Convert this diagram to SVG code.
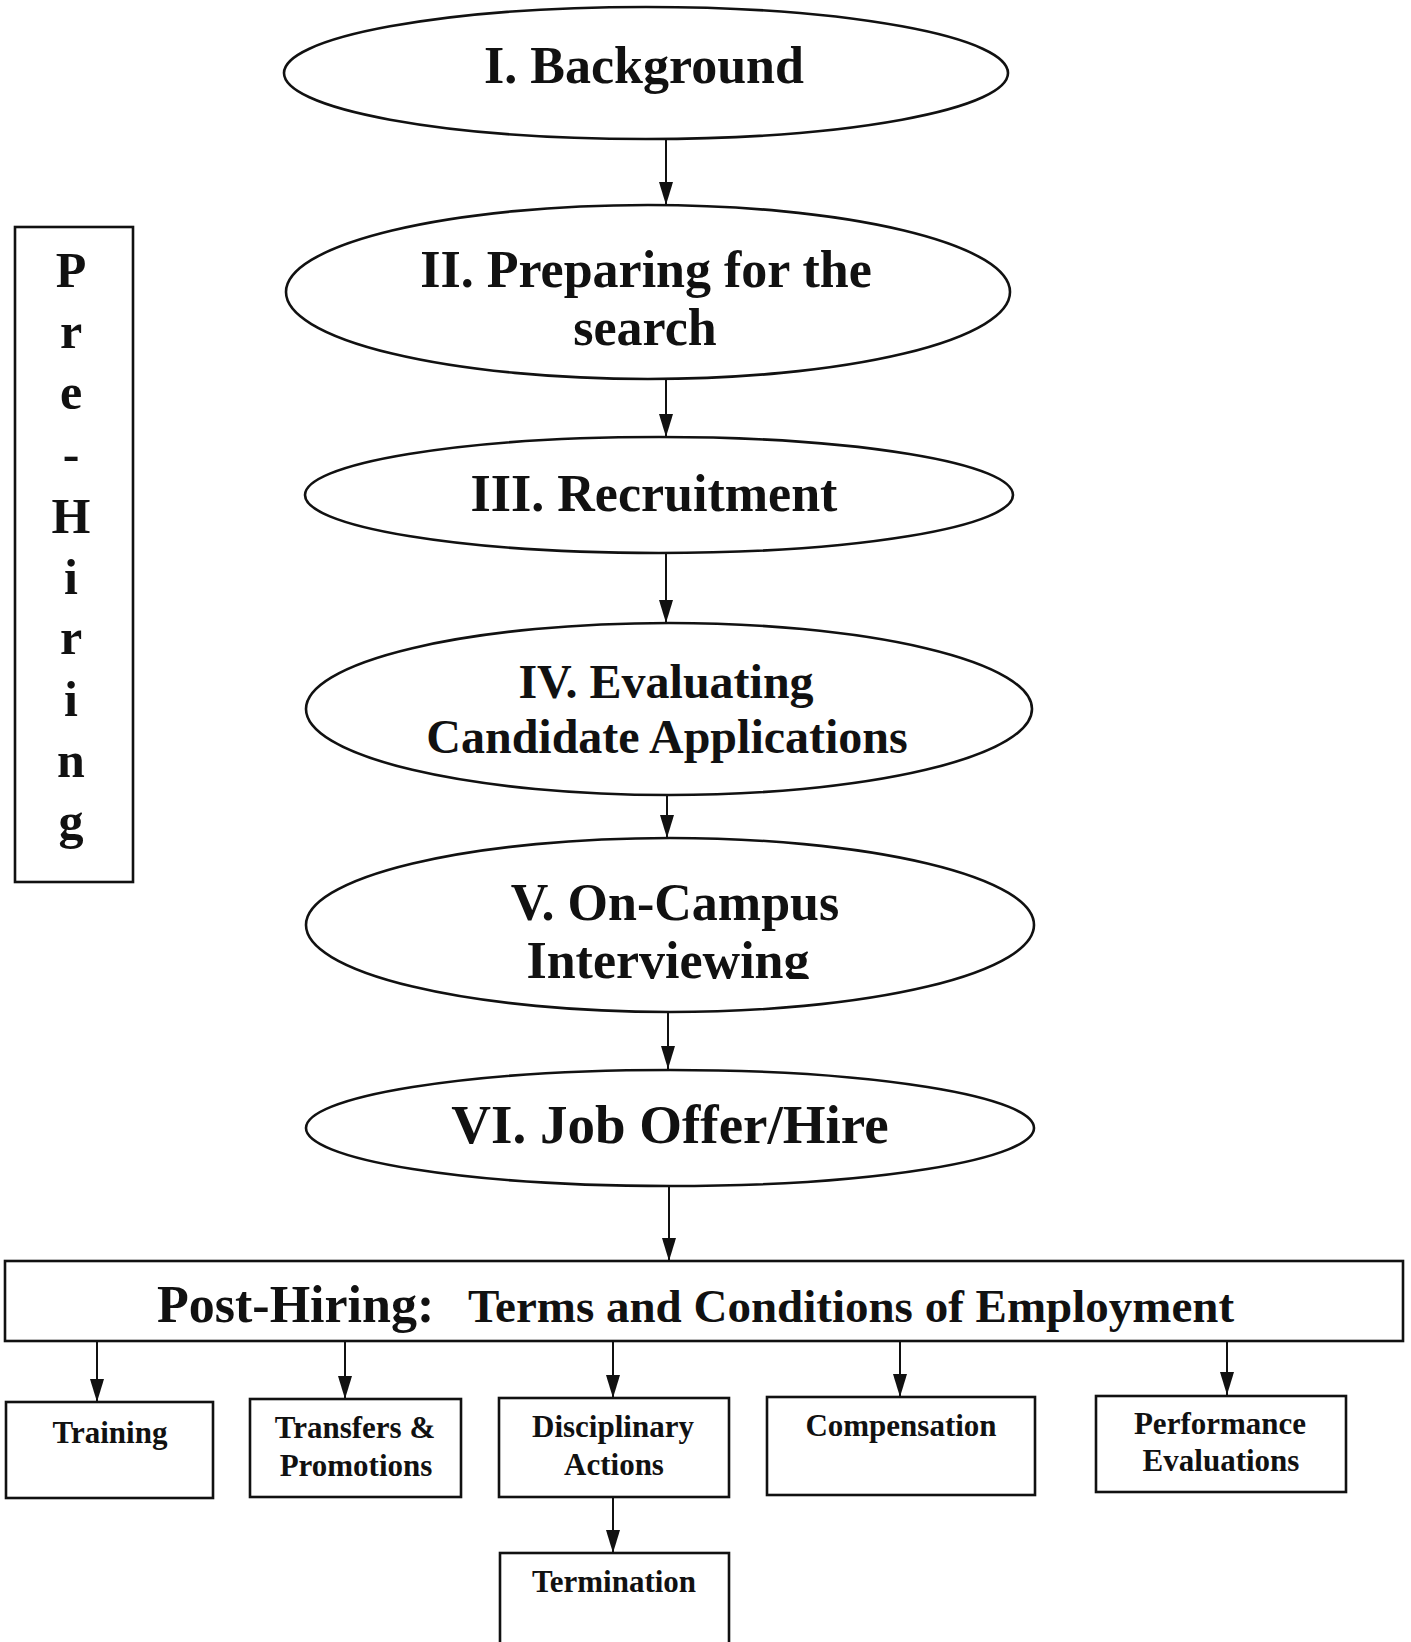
<svg xmlns="http://www.w3.org/2000/svg" width="1411" height="1642" viewBox="0 0 1411 1642">
<style>
.n{fill:#fff;stroke:#111;stroke-width:2.6}
.t{font-family:"Liberation Serif","Times New Roman",serif;font-weight:bold;fill:#111;text-anchor:middle}
.c{stroke:#111;stroke-width:2;fill:none;marker-end:url(#ah)}
</style>
<defs>
<marker id="ah" markerUnits="userSpaceOnUse" markerWidth="24" markerHeight="16" refX="23" refY="7" orient="auto" viewBox="0 0 24 16">
<path d="M0,0 L23,7 L0,14 Z" fill="#111"/>
</marker>
<clipPath id="cut"><rect x="0" y="0" width="1411" height="979"/></clipPath>
</defs>
<rect width="1411" height="1642" fill="#fff"/>

<g id="connectors">
<line class="c" x1="666" y1="140" x2="666" y2="205"/>
<line class="c" x1="666" y1="379" x2="666" y2="437"/>
<line class="c" x1="666" y1="553" x2="666" y2="623"/>
<line class="c" x1="667" y1="795" x2="667" y2="838"/>
<line class="c" x1="668" y1="1012" x2="668" y2="1069"/>
<line class="c" x1="669" y1="1186" x2="669" y2="1261"/>
<line class="c" x1="97" y1="1341" x2="97" y2="1402"/>
<line class="c" x1="345" y1="1341" x2="345" y2="1399"/>
<line class="c" x1="613" y1="1341" x2="613" y2="1398"/>
<line class="c" x1="900" y1="1341" x2="900" y2="1397"/>
<line class="c" x1="1227" y1="1341" x2="1227" y2="1395"/>
<line class="c" x1="613" y1="1497" x2="613" y2="1553"/>
</g>

<g id="pre-hiring">
<rect class="n" x="15" y="227" width="118" height="655"/>
<g style="font-size:50px">
<text class="t" x="71" y="287">P</text>
<text class="t" x="71" y="348">r</text>
<text class="t" x="71" y="409">e</text>
<text class="t" x="71" y="471">-</text>
<text class="t" x="71" y="533">H</text>
<text class="t" x="71" y="594">i</text>
<text class="t" x="71" y="654">r</text>
<text class="t" x="71" y="716">i</text>
<text class="t" x="71" y="777">n</text>
<text class="t" x="71" y="838">g</text>
</g>
</g>

<g id="background">
<ellipse class="n" cx="646" cy="73" rx="362" ry="66"/>
<text class="t" x="644" y="83" style="font-size:52px">I. Background</text>
</g>

<g id="preparing">
<ellipse class="n" cx="648" cy="292" rx="362" ry="87"/>
<text class="t" x="646" y="287" style="font-size:52px">II. Preparing for the</text>
<text class="t" x="645" y="345" style="font-size:52px">search</text>
</g>

<g id="recruitment">
<ellipse class="n" cx="659" cy="495" rx="354" ry="58"/>
<text class="t" x="654" y="511" style="font-size:52px">III. Recruitment</text>
</g>

<g id="evaluating">
<ellipse class="n" cx="669" cy="709" rx="363" ry="86"/>
<text class="t" x="666" y="698" style="font-size:48px">IV. Evaluating</text>
<text class="t" x="667" y="753" style="font-size:48px">Candidate Applications</text>
</g>

<g id="interviewing">
<ellipse class="n" cx="670" cy="925" rx="364" ry="87"/>
<text class="t" x="675" y="920" style="font-size:52px">V. On-Campus</text>
<text class="t" x="668" y="978" style="font-size:52px" clip-path="url(#cut)">Interviewing</text>
</g>

<g id="job-offer">
<ellipse class="n" cx="670" cy="1128" rx="364" ry="58"/>
<text class="t" x="670" y="1143" style="font-size:55px">VI. Job Offer/Hire</text>
</g>

<g id="post-hiring">
<rect class="n" x="5" y="1261" width="1398" height="80"/>
<text class="t" y="1322" style="text-anchor:start"><tspan x="157" style="font-size:52px">Post-Hiring:</tspan><tspan x="468" style="font-size:47px">Terms and Conditions of Employment</tspan></text>
</g>

<g id="training">
<rect class="n" x="6" y="1402" width="207" height="96"/>
<text class="t" x="110" y="1443" style="font-size:31px">Training</text>
</g>

<g id="transfers">
<rect class="n" x="250" y="1399" width="211" height="98"/>
<text class="t" x="355" y="1438" style="font-size:31px">Transfers &amp;</text>
<text class="t" x="356" y="1476" style="font-size:31px">Promotions</text>
</g>

<g id="disciplinary">
<rect class="n" x="499" y="1398" width="230" height="99"/>
<text class="t" x="613" y="1437" style="font-size:31px">Disciplinary</text>
<text class="t" x="614" y="1475" style="font-size:31px">Actions</text>
</g>

<g id="compensation">
<rect class="n" x="767" y="1397" width="268" height="98"/>
<text class="t" x="901" y="1436" style="font-size:31px">Compensation</text>
</g>

<g id="performance">
<rect class="n" x="1096" y="1396" width="250" height="96"/>
<text class="t" x="1220" y="1434" style="font-size:31px">Performance</text>
<text class="t" x="1221" y="1471" style="font-size:31px">Evaluations</text>
</g>

<g id="termination">
<rect class="n" x="500" y="1553" width="229" height="100"/>
<text class="t" x="614" y="1592" style="font-size:31px">Termination</text>
</g>
</svg>
